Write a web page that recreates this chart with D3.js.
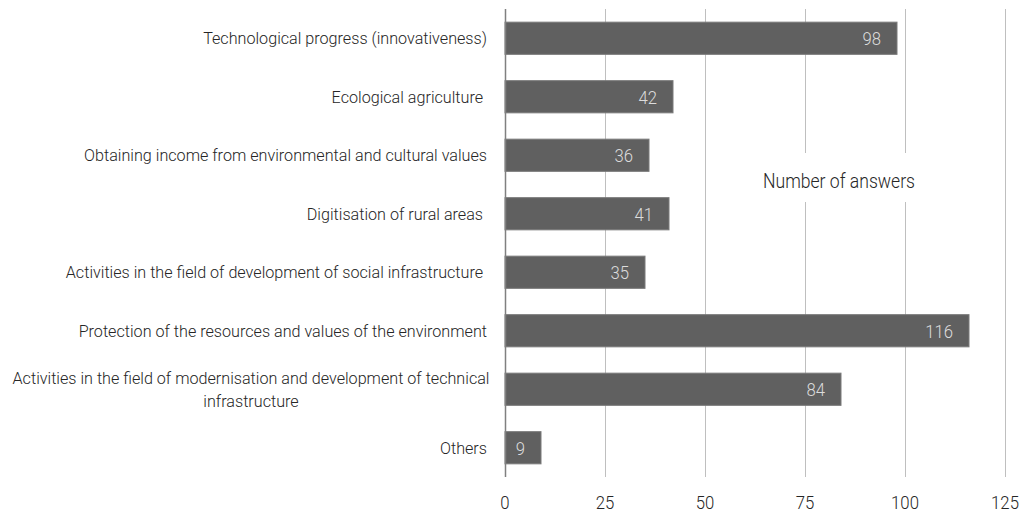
<!DOCTYPE html>
<html><head><meta charset="utf-8">
<script src="https://cdn.jsdelivr.net/npm/d3@7"></script>
<style>
html,body{margin:0;padding:0;background:#fff;}
text{font-family:Roboto,"Noto Sans",sans-serif;font-weight:300;white-space:pre;}
</style></head><body>
<svg id="c" width="1022" height="516"></svg>
<script>
const categories = [
  ["Technological progress (innovativeness)"],
  ["Ecological agriculture "],
  ["Obtaining income from environmental and cultural values"],
  ["Digitisation of rural areas "],
  ["Activities in the field of development of social infrastructure "],
  ["Protection of the resources and values of the environment"],
  ["Activities in the field of modernisation and development of technical", "infrastructure"],
  ["Others"]
];
const values = [98, 42, 36, 41, 35, 116, 84, 9];
const xTicks = [0, 25, 50, 75, 100, 125];
const axisTitle = "Number of answers";

const SX = 0.88, SXC = 0.95;
const svg = d3.select("#c");
const x = d3.scaleLinear().domain([0,125]).range([505,1005]);
const y = d3.scaleBand().domain(d3.range(values.length)).range([9,477]).paddingInner(0.45).paddingOuter(0.225);

// gridlines
svg.append("g").selectAll("line").data(xTicks.slice(1)).join("line")
  .attr("x1",d=>x(d)+0.5).attr("x2",d=>x(d)+0.5).attr("y1",9).attr("y2",477)
  .attr("stroke","#bfbfbf").attr("stroke-width",1);

// title box
const tg = svg.append("g");
tg.append("rect").attr("x",x(60)).attr("y",153).attr("width",x(108)-x(60)).attr("height",49).attr("fill","#fff");
tg.append("text").attr("transform",`translate(${x(83.5)},188) scale(${SX},1)`).attr("text-anchor","middle")
  .attr("font-size",20).attr("fill","#262626").text(axisTitle);

// bars
svg.append("g").selectAll("rect").data(values).join("rect")
  .attr("x",x(0)).attr("y",(d,i)=>y(i)).attr("width",d=>x(d)-x(0)).attr("height",y.bandwidth())
  .attr("fill","#606060").attr("stroke","#7a7a7a").attr("stroke-width",1);

// value labels
svg.append("g").selectAll("text").data(values).join("text")
  .attr("transform",(d,i)=>`translate(${x(d)-16},${y(i)+y.bandwidth()/2+7}) scale(${SX},1)`)
  .attr("text-anchor","end").attr("font-size",19).attr("fill","#dcdcdc").text(d=>d);

// axis line
svg.append("line").attr("x1",x(0)+0.5).attr("x2",x(0)+0.5).attr("y1",9).attr("y2",477)
  .attr("stroke","#808080").attr("stroke-width",1.5);

// x tick labels
svg.append("g").selectAll("text").data(xTicks).join("text")
  .attr("transform",d=>`translate(${x(d)},509) scale(${SX},1)`).attr("text-anchor","middle")
  .attr("font-size",19).attr("fill","#262626").text(d=>d);

// category labels
const cg = svg.append("g").selectAll("g").data(categories).join("g");
cg.each(function(lines,i){
  const g = d3.select(this);
  const cy = y(i)+y.bandwidth()/2;
  if(lines.length===1){
    g.append("text").attr("transform",`translate(487,${cy+6}) scale(${SXC},1)`).attr("text-anchor","end")
      .attr("font-size",17).attr("fill","#262626").text(lines[0]);
  } else {
    lines.forEach((l,k)=>{
      g.append("text").attr("transform",`translate(251,${cy+6+(k-0.5)*23}) scale(${SXC},1)`).attr("text-anchor","middle")
        .attr("font-size",17).attr("fill","#262626").text(l);
    });
  }
});
</script></body></html>
